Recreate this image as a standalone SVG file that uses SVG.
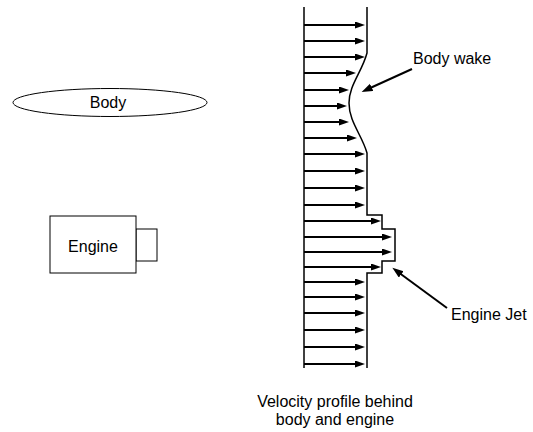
<svg xmlns="http://www.w3.org/2000/svg" width="533" height="432" viewBox="0 0 533 432">
<style>
text{font-family:"Liberation Sans",Arial,sans-serif;font-size:16px;fill:#000}
.shape{fill:#fff;stroke:#000;stroke-width:1}
.prof{fill:none;stroke:#000;stroke-width:1.5}
.v{stroke:#000;stroke-width:2;marker-end:url(#ah)}
.lab{stroke:#000;stroke-width:2;marker-end:url(#ah2)}
</style>
<defs>
<marker id="ah" markerUnits="userSpaceOnUse" markerWidth="11" markerHeight="8" refX="4" refY="3.5" orient="auto"><path d="M0,0 L10,3.5 L0,7 z" fill="#000"/></marker>
<marker id="ah2" markerUnits="userSpaceOnUse" markerWidth="12" markerHeight="10" refX="4" refY="4" orient="auto"><path d="M0,0 L11,4 L0,8 z" fill="#000"/></marker>
</defs>
<rect width="533" height="432" fill="#fff"/>
<g id="body">
<ellipse class="shape" cx="110" cy="102.5" rx="97" ry="14"/>
<text x="108" y="108" text-anchor="middle">Body</text>
</g>
<g id="engine">
<rect class="shape" x="136" y="229" width="21" height="32"/>
<rect class="shape" x="50" y="216" width="86" height="57"/>
<text x="93" y="252" text-anchor="middle">Engine</text>
</g>
<g id="profile">
<line class="prof" x1="304" y1="7" x2="304" y2="368"/>
<path class="prof" d="M367,7 L367,53 C362,72 349,85 349,103 C349,122 362,135 367,153 L367,215 L382,215 L382,229 L395,229 L395,261 L382,261 L382,273 L367,273 L367,368"/>
</g>
<g id="connectors">
<line class="v" x1="304" y1="25" x2="359" y2="25"/>
<line class="v" x1="304" y1="41" x2="359" y2="41"/>
<line class="v" x1="304" y1="57" x2="359" y2="57"/>
<line class="v" x1="304" y1="73" x2="350" y2="73"/>
<line class="v" x1="304" y1="90" x2="343" y2="90"/>
<line class="v" x1="304" y1="106" x2="341" y2="106"/>
<line class="v" x1="304" y1="122" x2="343" y2="122"/>
<line class="v" x1="304" y1="138" x2="351" y2="138"/>
<line class="v" x1="304" y1="154" x2="359" y2="154"/>
<line class="v" x1="304" y1="171" x2="359" y2="171"/>
<line class="v" x1="304" y1="188" x2="359" y2="188"/>
<line class="v" x1="304" y1="205" x2="359" y2="205"/>
<line class="v" x1="304" y1="221" x2="375" y2="221"/>
<line class="v" x1="304" y1="237" x2="386" y2="237"/>
<line class="v" x1="304" y1="252" x2="386" y2="252"/>
<line class="v" x1="304" y1="267" x2="375" y2="267"/>
<line class="v" x1="304" y1="282" x2="359" y2="282"/>
<line class="v" x1="304" y1="297" x2="359" y2="297"/>
<line class="v" x1="304" y1="313" x2="359" y2="313"/>
<line class="v" x1="304" y1="330" x2="359" y2="330"/>
<line class="v" x1="304" y1="347" x2="359" y2="347"/>
<line class="v" x1="304" y1="364" x2="359" y2="364"/>
<line class="lab" x1="412" y1="69" x2="368" y2="89"/>
<line class="lab" x1="447" y1="308" x2="398" y2="272"/>
</g>
<g id="labels">
<text x="413" y="64">Body wake</text>
<text x="451" y="320">Engine Jet</text>
<text x="335" y="407" text-anchor="middle">Velocity profile behind</text>
<text x="335" y="425" text-anchor="middle">body and engine</text>
</g>
</svg>
